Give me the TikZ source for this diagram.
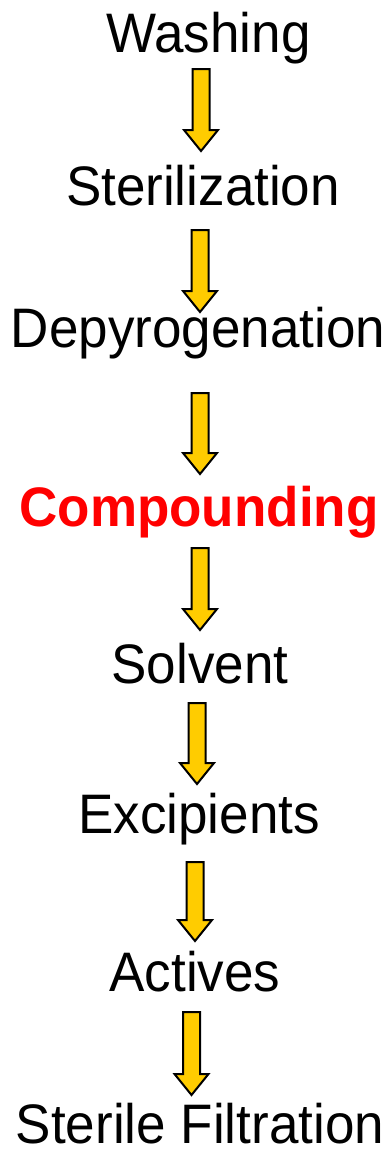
\documentclass[tikz,border=0pt]{standalone}
\usepackage{fontspec}
\setmainfont{Liberation Sans}
\definecolor{arrowgold}{HTML}{FFCC00}
\definecolor{highlight}{HTML}{FF0000}

\tikzset{
  steplabel/.style={inner sep=0pt, anchor=base, font=\fontsize{53}{60}\selectfont},
  keystep/.style={steplabel, text=highlight, font=\fontsize{53}{60}\selectfont\bfseries},
  flowarrow/.style={draw=black, line width=2pt, line join=miter, fill=arrowgold}
}

% block arrow pointing down: centre x, top y, tip y
\newcommand\flowarrow[3]{%
  \draw[flowarrow] (#1-8.5,#2) -- (#1+8.5,#2) -- (#1+8.5,#3-21) -- (#1+17,#3-21)
    -- (#1,#3) -- (#1-17,#3-21) -- (#1-8.5,#3-21) -- cycle;}

\newcommand\steptext[1]{\scalebox{1}[1.05]{#1}}

\begin{document}
\begin{tikzpicture}[x=1pt, y=-1pt]
  \useasboundingbox (0,0) rectangle (391,1149);

  \node[steplabel] (wash)    at (208.5,52)  {\steptext{Washing}};
  \node[steplabel] (steril)  at (203,205)   {\steptext{Sterilization}};
  \node[steplabel] (depyro)  at (198,347)   {\steptext{Depyrogenation}};
  \node[keystep]   (compound) at (199,526)  {\steptext{Compounding}};
  \node[steplabel] (solvent) at (200,683)   {\steptext{Solvent}};
  \node[steplabel] (excip)   at (199,833)   {\steptext{Excipients}};
  \node[steplabel] (actives) at (195,991)   {\steptext{Actives}};
  \node[steplabel] (filter)  at (200,1143)  {\steptext{Sterile Filtration}};

  \flowarrow{201}{69}{151}
  \flowarrow{200}{230}{312}
  \flowarrow{200}{393}{474}
  \flowarrow{200}{548}{630}
  \flowarrow{197}{703}{784}
  \flowarrow{195}{862}{941}
  \flowarrow{191.5}{1012}{1095}
\end{tikzpicture}
\end{document}
